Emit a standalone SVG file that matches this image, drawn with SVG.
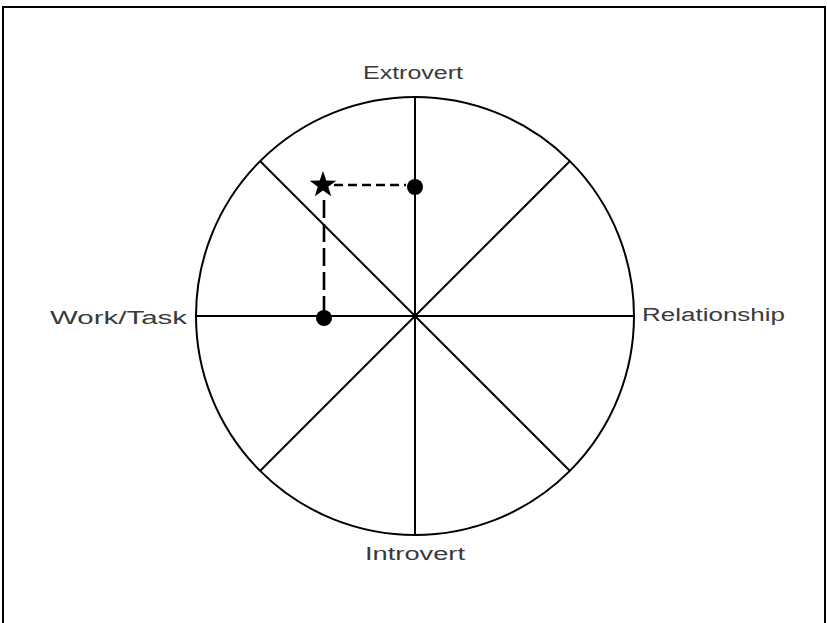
<svg xmlns="http://www.w3.org/2000/svg" width="827" height="623" viewBox="0 0 827 623">
<style>
.ln{stroke:#000;stroke-width:2;fill:none}
.dash{stroke:#000;stroke-width:2.6;fill:none}
.lbl{font-family:"Comic Sans MS","Liberation Sans",sans-serif;font-size:18px;fill:#3a3a3a}
.dot{fill:#000}
</style>
<rect x="0" y="0" width="827" height="623" fill="#fff"/>
<rect x="3" y="7" width="822" height="640" class="ln"/>
<g id="wheel">
<circle cx="415" cy="316" r="219" class="ln"/>
<line x1="415" y1="97" x2="415" y2="535" class="ln"/>
<line x1="196" y1="316" x2="634" y2="316" class="ln"/>
<line x1="260" y1="161" x2="570" y2="471" class="ln"/>
<line x1="570" y1="161" x2="260" y2="471" class="ln"/>
</g>
<g id="connectors">
<line x1="334" y1="185" x2="406" y2="185" class="dash" stroke-dasharray="9 5"/>
<line x1="324" y1="200" x2="324" y2="312" class="dash" stroke-dasharray="18 6"/>
</g>
<g id="dot-extrovert"><circle cx="415" cy="187" r="8" class="dot"/></g>
<g id="dot-task"><circle cx="324" cy="318" r="8" class="dot"/></g>
<g id="star"><polygon points="323,171 326.3,180.5 336.3,180.7 328.3,186.7 331.2,196.3 323,190.6 314.8,196.3 317.7,186.7 309.7,180.7 319.7,180.5" fill="#000"/></g>
<g id="label-extrovert"><text class="lbl" x="363" y="79" textLength="100" lengthAdjust="spacingAndGlyphs">Extrovert</text></g>
<g id="label-introvert"><text class="lbl" x="365" y="560" textLength="100" lengthAdjust="spacingAndGlyphs">Introvert</text></g>
<g id="label-task"><text class="lbl" x="50" y="324" textLength="137" lengthAdjust="spacingAndGlyphs">Work/Task</text></g>
<g id="label-relationship"><text class="lbl" x="642" y="321" textLength="143" lengthAdjust="spacingAndGlyphs">Relationship</text></g>
</svg>
